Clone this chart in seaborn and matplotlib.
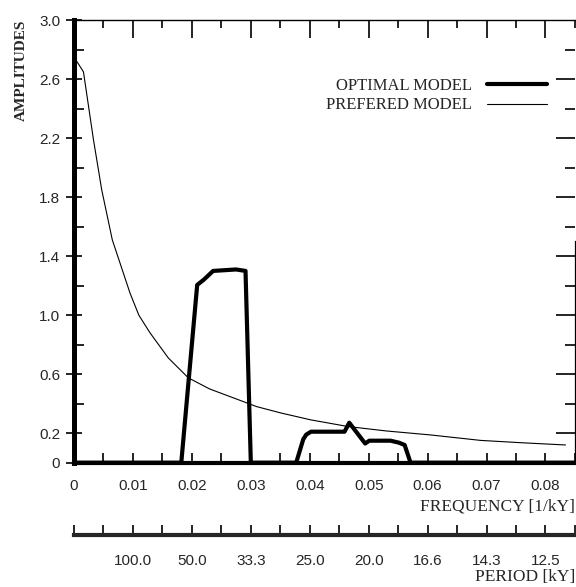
import matplotlib
matplotlib.use("Agg")
import matplotlib.pyplot as plt
import seaborn as sns
import numpy as np
import pandas as pd
from matplotlib.ticker import FixedLocator, MultipleLocator, NullFormatter
from matplotlib.lines import Line2D

# values
pref_freq = [0, 0.0016, 0.0033, 0.0047, 0.0065, 0.0080, 0.0095, 0.0110, 0.0129,
             0.0160, 0.0194, 0.0230, 0.0270, 0.0310, 0.0351, 0.0402, 0.0465,
             0.0530, 0.0605, 0.0690, 0.0760, 0.0834]
pref_amp = [2.75, 2.65, 2.19, 1.85, 1.51, 1.33, 1.15, 1.00, 0.88,
            0.71, 0.575, 0.50, 0.44, 0.38, 0.337, 0.29, 0.245,
            0.215, 0.188, 0.151, 0.135, 0.12]

opt_freq = [0, 0.0182, 0.0209, 0.0220, 0.0236, 0.0275, 0.0291, 0.0300,
            0.0377, 0.0389, 0.0394, 0.0402, 0.0459, 0.0467, 0.0494, 0.0501,
            0.0537, 0.0551, 0.0561, 0.0571, 0.085]
opt_amp = [0, 0, 1.205, 1.24, 1.30, 1.31, 1.30, 0,
           0, 0.159, 0.19, 0.21, 0.21, 0.271, 0.13, 0.149,
           0.149, 0.136, 0.12, 0, 0]

freq_ticks = [0, 0.01, 0.02, 0.03, 0.04, 0.05, 0.06, 0.07, 0.08]
freq_labels = ["0", "0.01", "0.02", "0.03", "0.04", "0.05", "0.06", "0.07", "0.08"]
amp_ticks = [0, 0.2, 0.6, 1.0, 1.4, 1.8, 2.2, 2.6, 3.0]
amp_labels = ["0", "0.2", "0.6", "1.0", "1.4", "1.8", "2.2", "2.6", "3.0"]
amp_minor = [0.4, 0.8, 1.2, 1.6, 2.0, 2.4, 2.8]
period_ticks = [0.01, 0.02, 0.03, 0.04, 0.05, 0.06, 0.07, 0.08]
period_labels = ["100.0", "50.0", "33.3", "25.0", "20.0", "16.6", "14.3", "12.5"]

pref = pd.DataFrame({"freq": pref_freq, "amp": pref_amp})
opt = pd.DataFrame({"freq": opt_freq, "amp": opt_amp})

sns.set_style("ticks")
plt.rcParams["font.family"] = ["Liberation Sans", "DejaVu Sans"]
serif = "Liberation Serif"

fig = plt.figure(figsize=(5.76, 5.87), dpi=100)
ax = fig.add_axes([0.1285, 0.2118, 0.8697, 0.7538])

sns.lineplot(data=pref, x="freq", y="amp", ax=ax, color="black", lw=0.8,
             sort=False, estimator=None)
sns.lineplot(data=opt, x="freq", y="amp", ax=ax, color="black", lw=3.0,
             sort=False, estimator=None, clip_on=False)

ax.set_xlim(0, 0.085)
ax.set_ylim(0, 3.0)
ax.set_xlabel("")
ax.set_ylabel("")

# spines
ax.spines["left"].set_linewidth(3.6)
ax.spines["bottom"].set_linewidth(3.0)
ax.spines["top"].set_linewidth(1.0)
ax.spines["right"].set_linewidth(0.9)
ax.spines["right"].set_bounds(0, 1.5)
for s in ax.spines.values():
    s.set_color("black")

# ticks: bottom and left
ax.xaxis.set_major_locator(FixedLocator(freq_ticks))
ax.set_xticklabels(freq_labels)
ax.xaxis.set_minor_locator(MultipleLocator(0.005))
ax.yaxis.set_major_locator(FixedLocator(amp_ticks))
ax.set_yticklabels(amp_labels)
ax.yaxis.set_minor_locator(FixedLocator(amp_minor))

ax.tick_params(axis="x", which="both", direction="in", length=7, width=1.2,
               top=False, labelsize=11, pad=12, color="black")
ax.tick_params(axis="y", which="major", direction="inout", length=12, width=1.2,
               right=False, labelsize=11, pad=4, color="black")
ax.tick_params(axis="y", which="minor", direction="in", length=7, width=1.2,
               right=False, color="black")

# top ticks
tax = ax.secondary_xaxis("top")
tax.spines["top"].set_visible(False)
tax.xaxis.set_major_locator(FixedLocator(freq_ticks))
tax.xaxis.set_minor_locator(MultipleLocator(0.005))
tax.xaxis.set_major_formatter(NullFormatter())
tax.tick_params(axis="x", which="major", direction="in", length=13, width=1.2, color="black")
tax.tick_params(axis="x", which="minor", direction="in", length=6, width=1.2, color="black")

# right ticks
rax = ax.secondary_yaxis("right")
rax.spines["right"].set_visible(False)
rax.yaxis.set_major_locator(FixedLocator(amp_ticks[1:-1]))
rax.yaxis.set_minor_locator(FixedLocator(amp_minor))
rax.yaxis.set_major_formatter(NullFormatter())
rax.tick_params(axis="y", which="major", direction="in", length=14, width=1.2, color="black")
rax.tick_params(axis="y", which="minor", direction="in", length=7, width=1.2, color="black")

# period axis below
pax = ax.secondary_xaxis(-0.163)
pax.spines["bottom"].set_linewidth(3.0)
pax.xaxis.set_major_locator(FixedLocator(period_ticks))
pax.set_xticklabels(period_labels)
pax.xaxis.set_minor_locator(MultipleLocator(0.005))
pax.tick_params(axis="x", which="both", direction="in", length=7, width=1.2,
                labelsize=11, pad=14, color="black")

# axis titles
fig.text(0.037, 0.966, "AMPLITUDES", rotation=90, ha="center", va="top",
         family=serif, fontweight="bold", fontsize=11)
fig.text(0.998, 0.137, "FREQUENCY [1/kY]", ha="right", va="center",
         family=serif, fontsize=12.5)
fig.text(0.998, 0.017, "PERIOD [kY]", ha="right", va="center",
         family=serif, fontsize=12.5)

handles = [Line2D([], [], color="black", lw=3.0),
           Line2D([], [], color="black", lw=0.8)]
leg = ax.legend(handles, ["OPTIMAL MODEL", "PREFERED MODEL"], loc="upper right",
                bbox_to_anchor=(0.944, 0.87), frameon=False, markerfirst=False,
                handlelength=3.6, handletextpad=0.9, labelspacing=0.22,
                borderpad=0, borderaxespad=0,
                prop={"family": serif, "size": 12})

fig.savefig("out.png", dpi=100)
